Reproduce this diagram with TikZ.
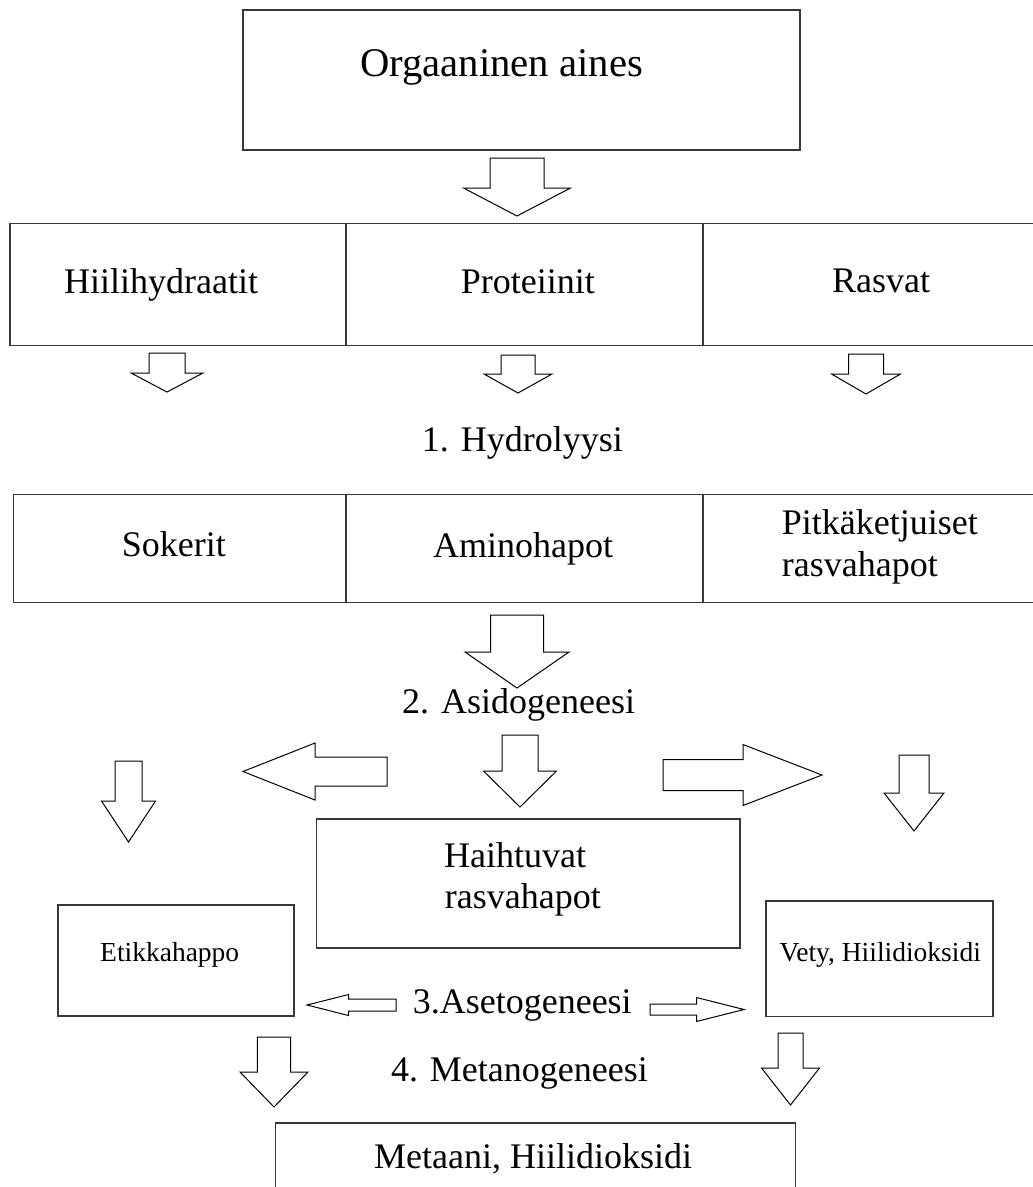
\documentclass[tikz,border=0pt]{standalone}
\usepackage{fontspec}
\setmainfont{Liberation Serif}
\newcommand\BDown[6]{% cx, shaft half width, top y, wing y, head half width, tip y
  \draw[blk] ({#1-#2},#3) -- ({#1+#2},#3) -- ({#1+#2},#4) -- ({#1+#5},#4) -- (#1,#6) -- ({#1-#5},#4) -- ({#1-#2},#4) -- cycle;}
\newcommand\BSide[6]{% cy, shaft half height, tail x, wing x, head half height, tip x
  \draw[blk] (#3,{#1-#2}) -- (#4,{#1-#2}) -- (#4,{#1-#5}) -- (#6,#1) -- (#4,{#1+#5}) -- (#4,{#1+#2}) -- (#3,{#1+#2}) -- cycle;}
\tikzset{
  box/.style={draw=black!78, line width=1.8pt, inner sep=0pt, outer sep=0pt, anchor=north west},
  blk/.style={draw=black, line width=1pt, fill=white, line join=miter},
  txtXL/.style={inner sep=0pt, anchor=base west, font=\fontsize{40.7}{46}\selectfont},
  txtL/.style={inner sep=0pt, anchor=base west, font=\fontsize{36}{42}\selectfont},
  txtS/.style={inner sep=0pt, anchor=base west, font=\fontsize{27.5}{32}\selectfont},
}
\begin{document}
\begin{tikzpicture}[x=1pt,y=-1pt]
\useasboundingbox[fill=white] (0,0) rectangle (1033,1187);

% boxes
\node[box, minimum width=557pt, minimum height=140pt] (org) at (243,10) {};
\node[box, minimum width=336pt, minimum height=122pt] (hh) at (10,223.5) {};
\node[box, minimum width=357pt, minimum height=122pt] (pr) at (346,223.5) {};
\node[box, minimum width=340pt, minimum height=122pt] (ra) at (703,223.5) {};
\node[box, minimum width=332pt, minimum height=108pt] (so) at (13.5,494.5) {};
\node[box, minimum width=357.5pt, minimum height=108pt] (am) at (345.7,494.5) {};
\node[box, minimum width=340pt, minimum height=108pt] (pi) at (703.3,494.5) {};
\node[box, minimum width=423.5pt, minimum height=129pt] (ha) at (316.5,819) {};
\node[box, minimum width=236pt, minimum height=111pt] (et) at (58,905) {};
\node[box, minimum width=227pt, minimum height=115.5pt] (ve) at (766,901) {};
\node[box, minimum width=520pt, minimum height=90pt] (me) at (275.4,1123) {};

% texts
\node[txtXL] (torg) at (360,76.7) {Orgaaninen aines};
\node[txtL] (thh) at (64,293.3) {Hiilihydraatit};
\node[txtL] (tpr) at (460.7,293.3) {Proteiinit};
\node[txtL] (tra) at (832,292) {Rasvat};
\node[txtL] (thy) at (421.7,451.7) {1. Hydrolyysi};
\node[txtL] (tso) at (121.7,556.7) {Sokerit};
\node[txtL] (tam) at (433,557) {Aminohapot};
\node[txtL] (tpi1) at (781.7,534) {Pitkäketjuiset};
\node[txtL] (tpi2) at (781.7,576) {rasvahapot};
\node[txtL] (tas) at (402,713.3) {2. Asidogeneesi};
\node[txtL] (tha1) at (444,867) {Haihtuvat};
\node[txtL] (tha2) at (444.7,908.3) {rasvahapot};
\node[txtS] (tet) at (100,961.7) {Etikkahappo};
\node[txtS] (tve) at (779.3,961) {Vety, Hiilidioksidi};
\node[txtL] (tae) at (412.6,1013.3) {3.Asetogeneesi};
\node[txtL] (tmg) at (390.8,1081.7) {4. Metanogeneesi};
\node[txtL] (tme) at (374,1168.3) {Metaani, Hiilidioksidi};

% block arrows
\BDown{517}{27}{158}{188}{53.5}{216}
\BDown{167}{18}{353}{373}{36}{392}
\BDown{518}{17}{355}{374}{34}{393}
\BDown{866}{17.5}{354}{374}{34.5}{394}
\BDown{517}{26.5}{615}{652}{52}{688}
\BSide{771.5}{14.5}{387}{315}{28.5}{243}
\BDown{520}{18}{735}{771}{36.5}{807}
\BSide{775}{15.5}{663}{743}{30.5}{822}
\BDown{128.5}{13.5}{761}{801}{27}{842}
\BDown{914}{15}{755}{793}{30}{831}
\BSide{1005}{6}{396}{348.5}{10.5}{307}
\BSide{1009.5}{5.5}{650}{696.5}{12}{744}
\BDown{274}{16.7}{1037}{1072}{34}{1107}
\BDown{790.5}{12.5}{1033}{1068}{29}{1105}
\end{tikzpicture}
\end{document}
